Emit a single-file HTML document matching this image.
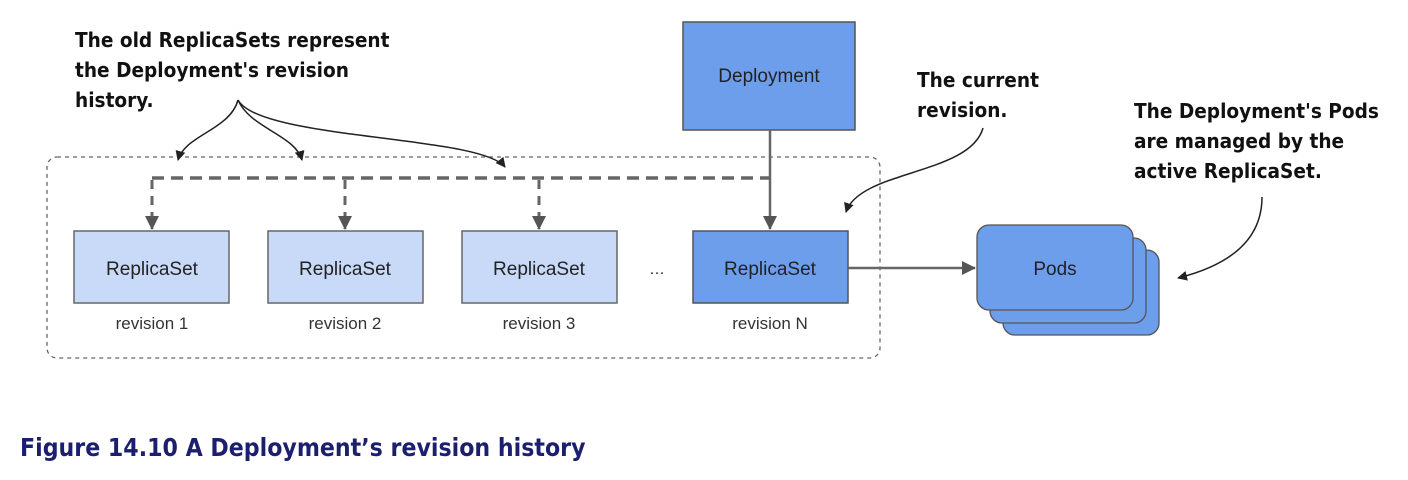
<!DOCTYPE html>
<html><head><meta charset="utf-8"><style>
body{margin:0;background:#fff;width:1408px;height:480px;overflow:hidden;position:relative;font-family:"Liberation Sans",sans-serif}
.n{position:absolute;font-weight:bold;font-size:20.6px;line-height:30px;color:#111;font-family:"DejaVu Sans Condensed","Liberation Sans",sans-serif}
</style></head><body>
<svg width="1408" height="480" style="position:absolute;left:0;top:0" font-family="Liberation Sans, sans-serif">
<defs>
<marker id="a" markerWidth="10" markerHeight="10" refX="9" refY="5" orient="auto" markerUnits="userSpaceOnUse"><path d="M0,0 L10,5 L0,10z" fill="#222"/></marker>
<marker id="g" markerWidth="14" markerHeight="14" refX="13" refY="7" orient="auto" markerUnits="userSpaceOnUse"><path d="M0,0 L14,7 L0,14z" fill="#555"/></marker>
</defs>
<rect x="47" y="157" width="833" height="201" rx="10" fill="none" stroke="#666" stroke-width="1.3" stroke-dasharray="4,4"/>
<rect x="683" y="22" width="172" height="108" fill="#6d9eeb" stroke="#555" stroke-width="1.5"/>
<text x="769" y="82" font-size="19" text-anchor="middle" fill="#222">Deployment</text>
<path d="M152,178 H770" stroke="#666" stroke-width="3.5" stroke-dasharray="12,7" fill="none"/>
<path d="M152,180 V229" stroke="#666" stroke-width="3" stroke-dasharray="9,7" fill="none" marker-end="url(#g)"/>
<path d="M345,180 V229" stroke="#666" stroke-width="3" stroke-dasharray="9,7" fill="none" marker-end="url(#g)"/>
<path d="M539,180 V229" stroke="#666" stroke-width="3" stroke-dasharray="9,7" fill="none" marker-end="url(#g)"/>
<path d="M770,130 V229" stroke="#666" stroke-width="2.5" fill="none" marker-end="url(#g)"/>
<g font-size="19" fill="#222" text-anchor="middle">
<rect x="74" y="231" width="155" height="72" fill="#c9daf8" stroke="#666" stroke-width="1.5"/><text x="152" y="275">ReplicaSet</text>
<rect x="268" y="231" width="155" height="72" fill="#c9daf8" stroke="#666" stroke-width="1.5"/><text x="345" y="275">ReplicaSet</text>
<rect x="462" y="231" width="155" height="72" fill="#c9daf8" stroke="#666" stroke-width="1.5"/><text x="539" y="275">ReplicaSet</text>
<rect x="693" y="231" width="155" height="72" fill="#6d9eeb" stroke="#555" stroke-width="1.5"/><text x="770" y="275">ReplicaSet</text>
<text x="657" y="274" font-size="16">…</text>
</g>
<g font-size="17" fill="#333" text-anchor="middle">
<text x="152" y="329">revision 1</text><text x="345" y="329">revision 2</text><text x="539" y="329">revision 3</text><text x="770" y="329">revision N</text>
</g>
<path d="M848,268 H975" stroke="#666" stroke-width="2.5" fill="none" marker-end="url(#g)"/>
<rect x="1003" y="250" width="156" height="85" rx="12" fill="#6d9eeb" stroke="#555" stroke-width="1.3"/>
<rect x="990" y="238" width="156" height="85" rx="12" fill="#6d9eeb" stroke="#555" stroke-width="1.3"/>
<rect x="977" y="225" width="156" height="85" rx="12" fill="#6d9eeb" stroke="#555" stroke-width="1.3"/>
<text x="1055" y="275" font-size="19" text-anchor="middle" fill="#222">Pods</text>
<g stroke="#222" stroke-width="1.5" fill="none">
<path d="M238,100 C230,130 185,135 178,160" marker-end="url(#a)"/>
<path d="M238,100 C250,128 295,135 302,160" marker-end="url(#a)"/>
<path d="M238,100 C260,140 480,135 505,167" marker-end="url(#a)"/>
<path d="M983,128 C970,175 860,170 846,212" marker-end="url(#a)"/>
<path d="M1262,197 C1262,240 1230,265 1178,278" marker-end="url(#a)"/>
</g>
<text x="20" y="456" font-size="24.6" font-weight="bold" fill="#1c1f6e" font-family="DejaVu Sans Condensed, Liberation Sans, sans-serif">Figure 14.10 A Deployment’s revision history</text>
</svg>
<div class="n" style="left:75px;top:25px">The old ReplicaSets represent<br>the Deployment's revision<br>history.</div>
<div class="n" style="left:917px;top:65px">The current<br>revision.</div>
<div class="n" style="left:1134px;top:96px">The Deployment's Pods<br>are managed by the<br>active ReplicaSet.</div>
</body></html>
